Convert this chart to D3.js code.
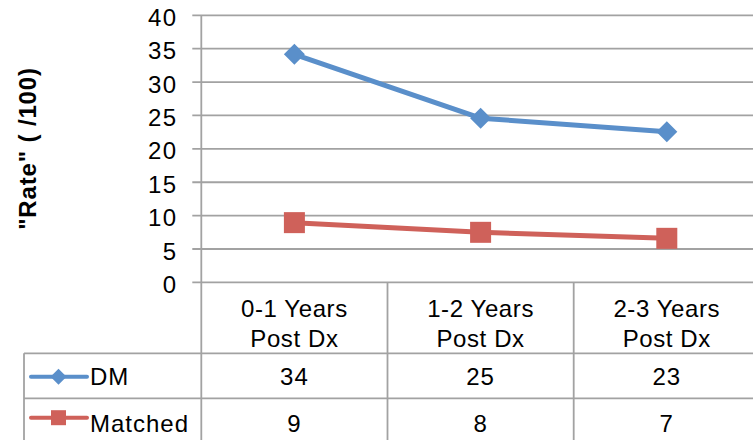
<!DOCTYPE html>
<html>
<head>
<meta charset="utf-8">
<script src="https://cdn.jsdelivr.net/npm/d3@7"></script>
<style>
  html, body { margin: 0; padding: 0; background: #fff; }
  svg { display: block; font-family: "Liberation Sans", Arial, sans-serif; }
</style>
</head>
<body>
<svg id="chart" width="753" height="440"></svg>
<script>
// ---- data ----
const categories = ["0-1 Years\nPost Dx", "1-2 Years\nPost Dx", "2-3 Years\nPost Dx"];
const seriesNames = ["DM", "Matched"];
const dmValues = [34.15, 24.6, 22.55];
const matchedValues = [8.95, 7.5, 6.6];
const dmTable = ["34", "25", "23"];
const matchedTable = ["9", "8", "7"];
const yTicks = [0, 5, 10, 15, 20, 25, 30, 35, 40];
const yTitle = "\"Rate\" ( /100)";

// ---- layout ----
const W = 753, H = 440;
const plotLeft = 201.3, step = 186.2, yTop = 15.3, yBottom = 282.4;
const tableLeft = 24, row1 = 353.3, row2 = 398.3;
const gridColor = "#a2a2a2";
const colors = { DM: "#5a8fca", Matched: "#cf615a" };

const svg = d3.select("#chart");

const x = d3.scaleBand().domain(categories).range([plotLeft, plotLeft + step * categories.length]).padding(0);
const y = d3.scaleLinear().domain([0, 40]).range([yBottom, yTop]);

// gridlines
svg.append("g").selectAll("line").data(yTicks).join("line")
  .attr("x1", plotLeft - 9).attr("x2", W)
  .attr("y1", d => y(d)).attr("y2", d => y(d))
  .attr("stroke", gridColor).attr("stroke-width", 1.8);

// y tick labels
svg.append("g").selectAll("text").data(yTicks).join("text")
  .attr("x", 177.5).attr("y", d => y(d)).attr("dy", "0.44em")
  .attr("text-anchor", "end").attr("font-size", 24).attr("letter-spacing", 1.4)
  .attr("fill", "#000").text(d => d);

// y title
svg.append("text")
  .attr("transform", "translate(36,148.5) rotate(-90)")
  .attr("text-anchor", "middle").attr("font-size", 24).attr("font-weight", "bold")
  .attr("letter-spacing", 0.85).attr("fill", "#000").text(yTitle);

// y axis line
svg.append("line").attr("x1", plotLeft).attr("x2", plotLeft).attr("y1", yTop).attr("y2", H)
  .attr("stroke", gridColor).attr("stroke-width", 1.8);

// category dividers (band edges)
svg.append("g").selectAll("line").data(categories.slice(1).concat(["__end"])).join("line")
  .attr("x1", (d, i) => x(categories[0]) + step * (i + 1))
  .attr("x2", (d, i) => x(categories[0]) + step * (i + 1))
  .attr("y1", yBottom).attr("y2", H)
  .attr("stroke", gridColor).attr("stroke-width", 1.8);

// table horizontal lines and left border
[row1, row2].forEach(r => {
  svg.append("line").attr("x1", tableLeft).attr("x2", W).attr("y1", r).attr("y2", r)
    .attr("stroke", gridColor).attr("stroke-width", 1.8);
});
svg.append("line").attr("x1", tableLeft).attr("x2", tableLeft).attr("y1", row1).attr("y2", H)
  .attr("stroke", gridColor).attr("stroke-width", 1.8);

// category header labels
const hdr = svg.append("g").selectAll("text").data(categories).join("text")
  .attr("text-anchor", "middle").attr("font-size", 24).attr("letter-spacing", 0.6).attr("fill", "#000");
hdr.each(function(d) {
  const lines = d.split("\n");
  const cx = x(d) + x.bandwidth() / 2;
  d3.select(this).selectAll("tspan").data(lines).join("tspan")
    .attr("x", cx).attr("y", (l, i) => 316.7 + i * 30).text(l => l);
});

// series
const series = [
  { name: "DM", values: dmValues, table: dmTable, symbol: d3.symbolDiamond, rowBase: 385, legY: 376.7 },
  { name: "Matched", values: matchedValues, table: matchedTable, symbol: d3.symbolSquare, rowBase: 431.7, legY: 417.7 }
];

const line = d3.line().x((d, i) => x(categories[i]) + x.bandwidth() / 2).y(d => y(d));

function marker(sel, s, cx, cy, size) {
  if (s.name === "DM") {
    const r = size / 2;
    sel.append("path")
      .attr("d", `M${cx},${cy - r}L${cx + r},${cy}L${cx},${cy + r}L${cx - r},${cy}Z`)
      .attr("fill", colors[s.name]);
  } else {
    sel.append("rect").attr("x", cx - size / 2).attr("y", cy - size / 2)
      .attr("width", size).attr("height", size).attr("fill", colors[s.name]);
  }
}

series.forEach(s => {
  svg.append("path").datum(s.values).attr("d", line)
    .attr("fill", "none").attr("stroke", colors[s.name]).attr("stroke-width", 5)
    .attr("stroke-linejoin", "round");
  const g = svg.append("g");
  s.values.forEach((v, i) => {
    const cx = x(categories[i]) + x.bandwidth() / 2;
    marker(g, s, cx, y(v), s.name === "DM" ? 21 : 21);
  });

  // table row values
  svg.append("g").selectAll("text").data(s.table).join("text")
    .attr("x", (d, i) => x(categories[i]) + x.bandwidth() / 2)
    .attr("y", s.rowBase).attr("text-anchor", "middle").attr("font-size", 24)
    .attr("letter-spacing", 1).attr("fill", "#000").text(d => d);

  // legend key in table
  svg.append("line").attr("x1", 31).attr("x2", 87).attr("y1", s.legY).attr("y2", s.legY)
    .attr("stroke", colors[s.name]).attr("stroke-width", 4).attr("stroke-linecap", "round");
  marker(svg, s, 58.5, s.legY, s.name === "DM" ? 16 : 15);
  svg.append("text").attr("x", 90).attr("y", s.rowBase).attr("font-size", 24)
    .attr("letter-spacing", 1).attr("fill", "#000").text(s.name);
});
</script>
</body>
</html>
